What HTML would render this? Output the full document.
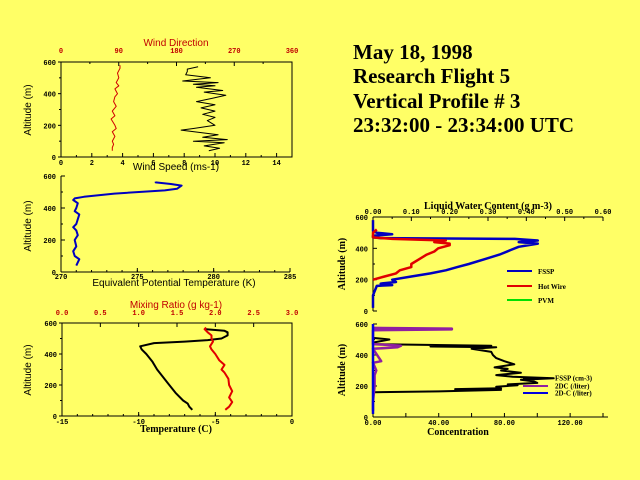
<!DOCTYPE html>
<html><head><meta charset="utf-8">
<style>
html,body{margin:0;padding:0;background:#ffff66;}
svg{display:block}
.t{font-family:"Liberation Serif",serif;font-weight:bold;font-size:21px;fill:#000}
.s{font-family:"Liberation Sans",sans-serif;font-size:10px}
.tk{font-family:"Liberation Mono",monospace;font-size:7px;font-weight:bold}
.sr{font-family:"Liberation Serif",serif;font-weight:bold;font-size:10px}
.lg{font-family:"Liberation Serif",serif;font-weight:bold;font-size:7px}
</style></head>
<body>
<svg id="c" width="640" height="480" viewBox="0 0 640 480" xmlns="http://www.w3.org/2000/svg">
<rect width="640" height="480" fill="#ffff66"/>
<text class="t" x="353" y="59">May 18, 1998</text>
<text class="t" x="353" y="83">Research Flight 5</text>
<text class="t" x="353" y="108">Vertical Profile # 3</text>
<text class="t" x="353" y="132">23:32:00 - 23:34:00 UTC</text>
</svg>
<script>
// ---- data ----
const altTicks=[0,200,400,600];
const wsTicks=[0,2,4,6,8,10,12,14];
const wdTicks=[0,90,180,270,360];
const windDirAlt=[40,60,80,100,130,160,180,200,240,260,290,320,350,380,400,430,450,470,500,530,560,580];
const windDirVal=[80,80,82,80,84,80,86,84,78,84,80,86,82,84,88,84,90,86,90,88,92,92];
const windSpdAlt=[40,55,70,90,100,110,125,140,170,180,200,230,250,270,290,310,330,350,370,390,410,420,440,450,460,470,480,500,520,540,555,570];
const windSpdVal=[9.6,10.3,9.3,10.6,8.6,10.8,9.2,10.2,7.8,8.6,10,9.5,10,9.2,10,9.1,10,8.8,9.8,10.7,9.3,10.5,8.8,10,8.6,10.2,7.9,9.7,8.1,8.2,8.2,8.9];
const thTicks=[270,275,280,285];
const thetaAlt=[40,80,100,130,160,200,230,260,280,300,330,360,380,400,430,450,460,470,490,510,520,540,550,560,565];
const thetaVal=[271,271.2,270.9,270.8,271,270.9,271.1,271,270.8,271,271.1,271.2,270.9,271,271.1,270.8,270.9,271.5,273.5,276.8,277.6,277.9,277.2,276.2,276.2];
const tTicks=[-15,-10,-5,0];
const mrTicks=[0.0,0.5,1.0,1.5,2.0,2.5,3.0];
const tempAlt=[40,60,80,100,150,200,250,300,350,400,430,450,470,480,490,500,520,540,550,560];
const tempVal=[-6.5,-6.7,-6.8,-7.1,-7.6,-8.0,-8.4,-8.8,-9.1,-9.5,-9.8,-9.9,-9.0,-7,-5.5,-4.6,-4.2,-4.2,-4.4,-5.6];
const mrAlt=[40,60,90,120,160,200,240,280,300,330,360,400,430,450,480,500,520,540,560,570];
const mrVal=[2.13,2.18,2.22,2.18,2.22,2.18,2.17,2.12,2.08,2.12,2.05,2.0,1.95,1.93,1.97,1.95,1.95,1.9,1.86,1.88];
const lwcTicks=[0,0.1,0.2,0.3,0.4,0.5,0.6];
const lwcTickLabels=["0.00","0.10","0.20","0.30","0.40","0.50","0.60"];
const fsspAlt=[20,100,160,165,175,185,200,220,240,260,280,300,330,360,390,410,430,440,450,460,465,470,480,490,500,510,520,550,580];
const fsspVal=[0,0,0.01,0.05,0.02,0.06,0.05,0.1,0.15,0.19,0.22,0.25,0.29,0.33,0.36,0.38,0.43,0.38,0.43,0.37,0.02,0,0,0.05,0.01,0,0,0,0];
const hotAlt=[200,220,240,260,280,300,330,360,380,400,420,430,440,450,460,470,500,520];
const hotVal=[0,0.03,0.06,0.07,0.1,0.1,0.12,0.14,0.16,0.17,0.2,0.2,0.16,0.19,0.05,0,0,0.01];
const concTicks=[0,40,80,120];
const concTickLabels=["0.00","40.00","80.00","120.00"];
const cFsspAlt=[20,160,165,175,180,185,195,205,210,220,230,240,250,260,270,285,300,310,320,340,360,380,400,420,440,450,455,460,470,480,500,510,520];
const cFsspVal=[0,0,40,78,50,78,75,88,82,100,98,90,110,85,75,90,78,82,74,86,80,75,73,72,60,75,35,72,0,0,10,0,0];
const c2dcAlt=[40,100,200,270,300,350,360,440,450,460,470,480,560,565,570,575];
const c2dcVal=[0,0,1,1,2,0,5,0,15,17,0,0,0,48,48,0];
const c2dAlt=[20,600];
const c2dVal=[0,0];

// ---- drawing ----
const svg=document.getElementById('c');
const NS='http://www.w3.org/2000/svg';
function mk(tag,attrs,name,parent){const e=document.createElementNS(NS,tag);for(const k in attrs)e.setAttribute(k,attrs[k]);


(parent||svg).appendChild(e);return e;}
function txt(x,y,s,cls,name,fill,anchor,rot){const e=mk('text',{x:x,y:y,class:cls,fill:fill||'#000','text-anchor':anchor||'middle'},name);if(rot)e.setAttribute('transform','rotate(-90 '+x+' '+y+')');e.textContent=s;return e;}
function scale(d0,d1,p0,p1){return v=>p0+(v-d0)/(d1-d0)*(p1-p0);}
function line(xs,ys,xsc,ysc,color,w,name){let d='';for(let i=0;i<xs.length;i++)d+=(i?'L':'M')+xsc(xs[i]).toFixed(1)+' '+ysc(ys[i]).toFixed(1);
mk('path',{d:d,fill:'none',stroke:color,'stroke-width':w,'stroke-linejoin':'round'},name);}
function hline(x1,x2,y,name,w,c){mk('line',{x1:x1,x2:x2,y1:y,y2:y,stroke:c||'#000','stroke-width':w||1},name);}
function vline(x,y1,y2,name,w,c){mk('line',{x1:x,x2:x,y1:y1,y2:y2,stroke:c||'#000','stroke-width':w||1},name);}

// Panel 1
(function(){const x0=61,x1=292,yT=62,yB=157;const ys=scale(0,600,yB,yT),xs=scale(0,15,x0,x1),xd=scale(0,360,x0,x1);
mk('rect',{x:x0,y:yT,width:x1-x0,height:yB-yT,fill:'none',stroke:'#000'},'wind-plot-frame');
altTicks.forEach(v=>{hline(x0-3,x0,ys(v),'y-tick');txt(x0-5,ys(v)+3,v,'tk','y-tick-label','#000','end');});
for(let v=100;v<600;v+=200)hline(x0-2,x0,ys(v),'y-minor-tick');
wsTicks.forEach(v=>{vline(xs(v),yB,yB-4,'x-tick');txt(xs(v),yB+8,v,'tk','x-tick-label');});
for(let v=1;v<15;v+=2)vline(xs(v),yB,yB-2,'x-minor-tick');
wdTicks.forEach(v=>{vline(xd(v),yT,yT+4,'top-tick');txt(xd(v),yT-9,v,'tk','top-tick-label','#c00000');});
for(let v=45;v<360;v+=90)vline(xd(v),yT,yT+2,'top-minor-tick');
txt(176,46,'Wind Direction','s','top-axis-title','#c00000');
txt(176,170,'Wind Speed (ms-1)','s','x-axis-title');
txt(31,110,'Altitude (m)','s','y-axis-title','#000','middle',true);
line(windDirVal,windDirAlt,xd,ys,'#d00000',1,'wind-direction-line');
line(windSpdVal,windSpdAlt,xs,ys,'#000',1,'wind-speed-line');})();

// Panel 2
(function(){const x0=61,x1=290,yT=176,yB=272;const ys=scale(0,600,yB,yT),xs=scale(270,285,x0,x1);
vline(x0,yT,yB,'y-axis-line');hline(x0,x1,yB,'x-axis-line');
altTicks.forEach(v=>{hline(x0,x0+4,ys(v),'y-tick');txt(x0-5,ys(v)+3,v,'tk','y-tick-label','#000','end');});
for(let v=100;v<600;v+=200)hline(x0,x0+2,ys(v),'y-minor-tick');
thTicks.forEach(v=>{vline(xs(v),yB,yB-4,'x-tick');txt(xs(v),yB+7,v,'tk','x-tick-label');});
for(let v=271;v<285;v++)vline(xs(v),yB,yB-2,'x-minor-tick');
txt(174,286,'Equivalent Potential Temperature (K)','s','x-axis-title');
txt(31,226,'Altitude (m)','s','y-axis-title','#000','middle',true);
line(thetaVal,thetaAlt,xs,ys,'#0000c0',2,'theta-e-line');})();

// Panel 3
(function(){const x0=62,x1=292,yT=323,yB=416;const ys=scale(0,600,yB,yT),xs=scale(-15,0,x0,x1),xm=scale(0,3,x0,x1);
mk('rect',{x:x0,y:yT,width:x1-x0,height:yB-yT,fill:'none',stroke:'#000'},'mixing-plot-frame');
altTicks.forEach(v=>{hline(x0-3,x0,ys(v),'y-tick');txt(x0-5,ys(v)+3,v,'tk','y-tick-label','#000','end');});
for(let v=100;v<600;v+=200)hline(x0-2,x0,ys(v),'y-minor-tick');
tTicks.forEach(v=>{vline(xs(v),yB,yB-4,'x-tick');txt(xs(v),yB+8,v,'tk','x-tick-label');});
for(let v=-14;v<0;v++)vline(xs(v),yB,yB-2,'x-minor-tick');
mrTicks.forEach(v=>{vline(xm(v),yT,yT+4,'top-tick');txt(xm(v),yT-8,v.toFixed(1),'tk','top-tick-label','#c00000');});
txt(176,308,'Mixing Ratio (g kg-1)','s','top-axis-title','#c00000');
txt(176,432,'Temperature (C)','sr','x-axis-title');
txt(31,370,'Altitude (m)','s','y-axis-title','#000','middle',true);
line(tempVal,tempAlt,xs,ys,'#000',2,'temperature-line');
line(mrVal,mrAlt,xm,ys,'#e00000',2,'mixing-ratio-line');})();

// Panel 4 LWC
(function(){const x0=373,x1=603,yT=217,yB=311;const ys=scale(0,600,yB,yT),xs=scale(0,0.6,x0,x1);
vline(x0,yT,yB,'y-axis-line');hline(x0,x1,yT,'top-axis-line');
altTicks.forEach((v,i)=>{hline(x0,x0+4,ys(v),'y-tick');txt(x0-5,ys(v)+3,v,'tk','y-tick-label','#000','end');});
for(let v=100;v<600;v+=200)hline(x0,x0+2,ys(v),'y-minor-tick');
lwcTicks.forEach((v,i)=>{vline(xs(v),yT,yT+4,'top-tick');txt(xs(v),yT-3,lwcTickLabels[i],'tk','top-tick-label');});
for(let v=0.05;v<0.6;v+=0.1)vline(xs(v),yT,yT+2,'top-minor-tick');
txt(488,209,'Liquid Water Content (g m-3)','sr','top-axis-title');
txt(345,264,'Altitude (m)','sr','y-axis-title','#000','middle',true);
line(fsspVal,fsspAlt,xs,ys,'#0000c0',2.5,'fssp-lwc-line');
line(hotVal,hotAlt,xs,ys,'#e00000',2.5,'hotwire-lwc-line');
const L=[['FSSP','#0000c0',271],['Hot Wire','#e00000',286],['PVM','#00e000',300]];
L.forEach(l=>{hline(507,532,l[2],'legend-swatch',2,l[1]);txt(538,l[2]+3,l[0],'lg','legend-label','#000','start');});})();

// Panel 5 concentration
(function(){const x0=373,x1=603,yT=324,yB=417;const ys=scale(0,600,yB,yT),xs=scale(0,140,x0,x1);
vline(x0,yT,yB,'y-axis-line');hline(x0,608,yB,'x-axis-line');
altTicks.forEach(v=>{hline(x0,x0+4,ys(v),'y-tick');txt(x0-5,ys(v)+3,v,'tk','y-tick-label','#000','end');});
for(let v=100;v<600;v+=200)hline(x0,x0+2,ys(v),'y-minor-tick');
concTicks.forEach((v,i)=>{vline(xs(v),yB,yB-4,'x-tick');txt(xs(v),yB+8,concTickLabels[i],'tk','x-tick-label');});
for(let v=20;v<=140;v+=40)vline(xs(v),yB,yB-4,'x-minor-tick');
txt(458,435,'Concentration','sr','x-axis-title');
txt(345,370,'Altitude (m)','sr','y-axis-title','#000','middle',true);
line(cFsspVal,cFsspAlt,xs,ys,'#000',2,'fssp-conc-line');
line(c2dcVal,c2dcAlt,xs,ys,'#9020a0',2.5,'2dc-conc-line');
line(c2dVal,c2dAlt,xs,ys,'#0000e0',2.5,'2d-c-conc-line');
const L=[['FSSP (cm-3)','#000',378],['2DC (/liter)','#9020a0',386],['2D-C (/liter)','#0000e0',393]];
L.forEach(l=>{hline(523,548,l[2],'legend-swatch',2,l[1]);txt(555,l[2]+2.5,l[0],'lg','legend-label','#000','start');});})();
</script>
</body></html>
